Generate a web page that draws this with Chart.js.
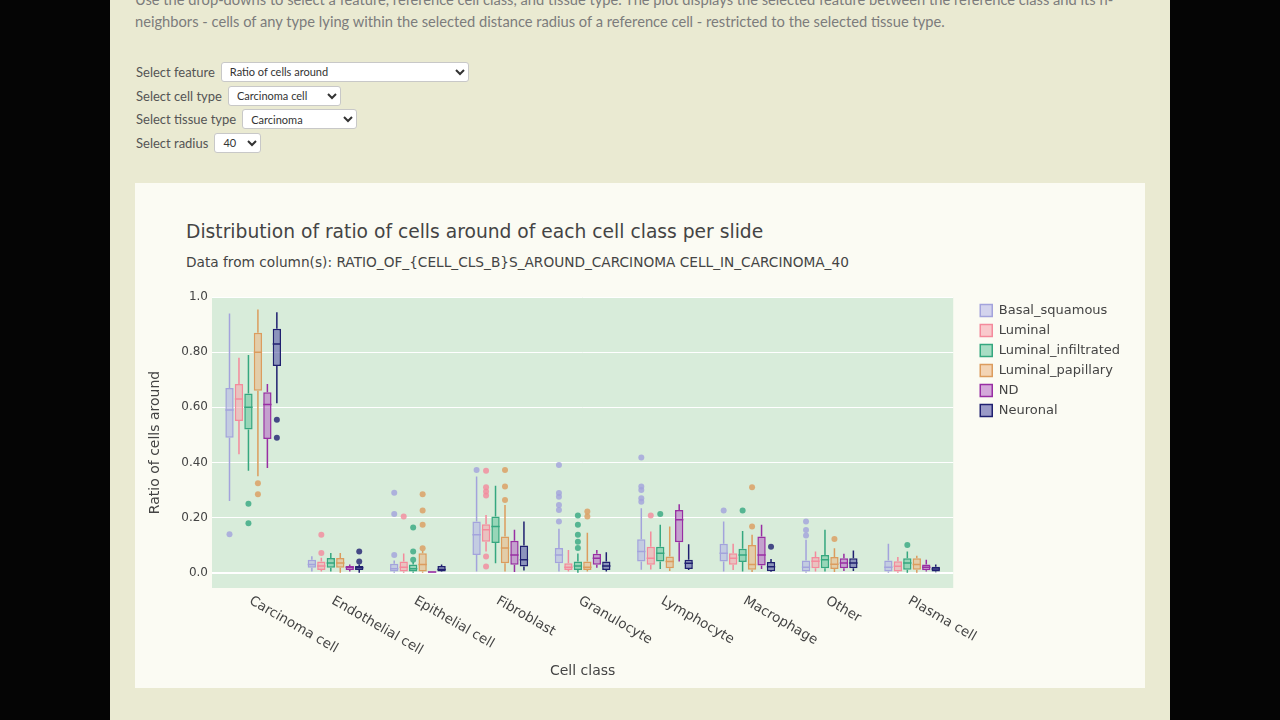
<!DOCTYPE html>
<html>
<head>
<meta charset="utf-8">
<title>Distribution of ratio of cells around</title>
<script src="https://cdn.jsdelivr.net/npm/chart.js@4.4.1/dist/chart.umd.min.js"></script>
<style>
  html, body { margin: 0; padding: 0; width: 1280px; height: 720px; overflow: hidden; background: #050505; }
  .page { position: absolute; left: 110px; top: 0; width: 1060px; height: 720px; background: #eaead2;
          font-family: Lato, "Open Sans", sans-serif; color: #7c7c7c; }
  .intro { position: absolute; left: 25px; top: -12px; margin: 0; font-size: 14.7px; line-height: 22px; white-space: nowrap; }
  .controls { position: absolute; left: 26px; top: 60px; font-size: 13px; color: #555; }
  .row { height: 23.7px; display: flex; align-items: center; }
  .row select { margin-left: 6px; height: 20px; font-family: Lato, sans-serif; font-size: 11px; color: #333;
                background: #fff; border: 1px solid #c8c8c8; border-radius: 3px; padding: 0 4px; }
  .card { position: absolute; left: 25px; top: 183px; width: 1010px; height: 505px; background: #fbfbf3; }
  .card h2 { position: absolute; left: 51px; top: 37px; margin: 0; font: 400 18.7px "DejaVu Sans", sans-serif; color: #444; line-height: 24px; }
  .card .sub { position: absolute; left: 51px; top: 70px; margin: 0; font: 400 13.7px "DejaVu Sans", sans-serif; color: #444; line-height: 18px; }
  .plot { position: absolute; left: 0; top: 100px; width: 1010px; height: 405px; }
</style>
</head>
<body>
<div class="page">
  <p class="intro">Use the drop-downs to select a feature, reference cell class, and tissue type. The plot displays the selected feature between the reference class and its n-<br>neighbors - cells of any type lying within the selected distance radius of a reference cell - restricted to the selected tissue type.</p>
  <div class="controls">
    <div class="row">Select feature <select style="width:248px"><option>Ratio of cells around</option></select></div>
    <div class="row">Select cell type <select style="width:113px"><option>Carcinoma cell</option></select></div>
    <div class="row">Select tissue type <select style="width:115px"><option>Carcinoma</option></select></div>
    <div class="row">Select radius <select style="width:47px"><option>40</option></select></div>
  </div>
  <div class="card">
    <h2>Distribution of ratio of cells around of each cell class per slide</h2>
    <p class="sub">Data from column(s): RATIO_OF_{CELL_CLS_B}S_AROUND_CARCINOMA CELL_IN_CARCINOMA_40</p>
    <div class="plot"><canvas id="boxChart"></canvas></div>
  </div>
</div>

<script>
// cell classes on the x axis
const categories = ['Carcinoma cell', 'Endothelial cell', 'Epithelial cell', 'Fibroblast', 'Granulocyte',
                    'Lymphocyte', 'Macrophage', 'Other', 'Plasma cell'];

// box stats per cell class: [lower whisker, q1, median, q3, upper whisker]
const basalSquamous = [[0.26, 0.49, 0.59, 0.67, 0.94], [0.005, 0.018, 0.03, 0.047, 0.06], [0, 0.005, 0.015, 0.033, 0.045],
                       [0.005, 0.065, 0.138, 0.186, 0.349], [0.005, 0.035, 0.065, 0.09, 0.16], [0.011, 0.041, 0.077, 0.122, 0.234],
                       [0.005, 0.041, 0.071, 0.105, 0.186], [0, 0.005, 0.02, 0.045, 0.12], [0, 0.005, 0.02, 0.045, 0.105]];
const luminal = [[0.43, 0.55, 0.63, 0.685, 0.78], [0.005, 0.01, 0.025, 0.041, 0.055], [0, 0.005, 0.02, 0.041, 0.07],
                 [0.077, 0.113, 0.156, 0.176, 0.21], [0.005, 0.01, 0.02, 0.035, 0.083], [0.012, 0.029, 0.053, 0.095, 0.15],
                 [0.01, 0.029, 0.053, 0.071, 0.105], [0.005, 0.017, 0.042, 0.057, 0.077], [0, 0.005, 0.024, 0.042, 0.057]];
const luminalInfiltrated = [[0.37, 0.52, 0.60, 0.65, 0.79], [0.005, 0.018, 0.036, 0.054, 0.072], [0, 0.005, 0.015, 0.03, 0.04],
                            [0.035, 0.108, 0.168, 0.204, 0.316], [0, 0.01, 0.025, 0.041, 0.07], [0.014, 0.041, 0.071, 0.095, 0.174],
                            [0.005, 0.039, 0.065, 0.087, 0.152], [0.005, 0.017, 0.047, 0.065, 0.156], [0, 0.011, 0.036, 0.053, 0.077]];
const luminalPapillary = [[0.35, 0.66, 0.80, 0.87, 0.955], [0, 0.018, 0.036, 0.054, 0.072], [0, 0.005, 0.03, 0.071, 0.08],
                          [0.005, 0.035, 0.09, 0.132, 0.246], [0.005, 0.01, 0.02, 0.041, 0.145], [0.007, 0.017, 0.041, 0.059, 0.168],
                          [0.003, 0.011, 0.03, 0.101, 0.138], [0.003, 0.014, 0.031, 0.057, 0.089], [0, 0.011, 0.03, 0.053, 0.062]];
const nd = [[0.38, 0.485, 0.61, 0.655, 0.685], [0.005, 0.01, 0.02, 0.025, 0.03], [0, 0.001, 0.003, 0.005, 0.006],
            [0.003, 0.029, 0.065, 0.116, 0.156], [0.018, 0.029, 0.053, 0.069, 0.083], [0.041, 0.111, 0.192, 0.228, 0.249],
            [0.014, 0.027, 0.065, 0.132, 0.174], [0.007, 0.017, 0.036, 0.053, 0.069], [0.005, 0.009, 0.02, 0.03, 0.047]];
const neuronal = [[0.615, 0.75, 0.83, 0.885, 0.945], [0, 0.01, 0.018, 0.025, 0.03], [0.003, 0.005, 0.012, 0.025, 0.03],
                  [0.008, 0.023, 0.047, 0.099, 0.186], [0.005, 0.01, 0.025, 0.041, 0.075], [0.01, 0.014, 0.035, 0.047, 0.104],
                  [0.003, 0.006, 0.022, 0.039, 0.05], [0.007, 0.017, 0.036, 0.053, 0.081], [0.002, 0.005, 0.014, 0.022, 0.03]];

// outlier points per cell class
const basalSquamousOut = [[0.14], [], [0.065, 0.213, 0.29], [0.373], [0.186, 0.228, 0.246, 0.276, 0.289, 0.391],
                          [0.258, 0.27, 0.30, 0.313, 0.418], [0.226], [0.135, 0.155, 0.186], []];
const luminalOut = [[], [0.072, 0.138], [0.204], [0.023, 0.059, 0.28, 0.295, 0.31, 0.37], [], [0.208], [], [], []];
const luminalInfiltratedOut = [[0.18, 0.25], [], [0.047, 0.077, 0.164], [], [0.09, 0.113, 0.138, 0.174, 0.208],
                               [0.213], [0.226], [], [0.101]];
const luminalPapillaryOut = [[0.285, 0.325], [], [0.089, 0.174, 0.226, 0.285], [0.264, 0.313, 0.373], [0.204, 0.222],
                             [], [0.168, 0.31], [0.123], []];
const ndOut = [[], [], [], [], [], [], [], [], []];
const neuronalOut = [[0.49, 0.555], [0.041, 0.077], [], [], [], [], [0.095], [], []];

// y axis
const yTickValues = [0, 0.2, 0.4, 0.6, 0.8, 1.0];
const yTickLabels = ['0.0', '0.20', '0.40', '0.60', '0.80', '1.0'];
const yMin = -0.055;
const yMax = 1.0;

const plotBg = '#d8ecda';

function boxSet(label, stats, outliers, color, fill) {
    return {
        label: label,
        data: stats.map(s => [s[1], s[3]]), // the box itself is a floating bar q1..q3
        stats: stats,
        outliers: outliers,
        backgroundColor: fill,
        borderColor: color,
        borderWidth: 1.5,
        borderSkipped: false,
        categoryPercentage: 0.69,
        barPercentage: 0.88
    };
}

// whiskers, medians and outliers on top of the bars
const boxParts = {
    id: 'boxParts',
    beforeDraw(chart) {
        const { ctx, chartArea: a } = chart;
        ctx.save();
        ctx.fillStyle = plotBg;
        ctx.fillRect(a.left, a.top, a.right - a.left, a.bottom - a.top);
        ctx.restore();
    },
    afterDatasetsDraw(chart) {
        const ctx = chart.ctx;
        const y = chart.scales.y;
        chart.data.datasets.forEach((ds, i) => {
            const meta = chart.getDatasetMeta(i);
            if (meta.hidden) return;
            meta.data.forEach((bar, j) => {
                const [lo, q1, med, q3, hi] = ds.stats[j];
                const half = bar.width / 2;
                ctx.save();
                ctx.strokeStyle = ds.borderColor;
                ctx.lineWidth = 1.5;
                ctx.beginPath();
                ctx.moveTo(bar.x, y.getPixelForValue(lo));
                ctx.lineTo(bar.x, y.getPixelForValue(q1));
                ctx.moveTo(bar.x, y.getPixelForValue(q3));
                ctx.lineTo(bar.x, y.getPixelForValue(hi));
                ctx.moveTo(bar.x - half, y.getPixelForValue(med));
                ctx.lineTo(bar.x + half, y.getPixelForValue(med));
                ctx.stroke();
                ctx.fillStyle = ds.borderColor;
                ctx.globalAlpha = 0.8;
                ds.outliers[j].forEach(v => {
                    ctx.beginPath();
                    ctx.arc(bar.x, y.getPixelForValue(v), 3, 0, Math.PI * 2);
                    ctx.fill();
                });
                ctx.restore();
            });
        });
    }
};

// x labels slanted downwards to the right
const slantedLabels = {
    id: 'slantedLabels',
    afterDraw(chart) {
        const ctx = chart.ctx;
        const x = chart.scales.x;
        ctx.save();
        ctx.font = '13.5px "DejaVu Sans"';
        ctx.fillStyle = '#444';
        ctx.textAlign = 'left';
        ctx.textBaseline = 'middle';
        categories.forEach((c, i) => {
            ctx.save();
            ctx.translate(x.getPixelForTick(i) - 3, chart.chartArea.bottom + 12);
            ctx.rotate(Math.PI / 6);
            ctx.fillText(c, 0, 0);
            ctx.restore();
        });
        ctx.restore();
    }
};

function initializeBoxChart() {
    try {
        Chart.defaults.font.family = '"DejaVu Sans", sans-serif';
        Chart.defaults.color = '#444';
        const ctx = document.getElementById('boxChart').getContext('2d');
        new Chart(ctx, {
            type: 'bar',
            data: {
                labels: categories,
                datasets: [
                    boxSet('Basal_squamous', basalSquamous, basalSquamousOut, '#a3a3dc', 'rgba(178,178,232,0.55)'),
                    boxSet('Luminal', luminal, luminalOut, '#f48a9c', 'rgba(248,160,172,0.55)'),
                    boxSet('Luminal_infiltrated', luminalInfiltrated, luminalInfiltratedOut, '#35a77f', 'rgba(100,196,156,0.55)'),
                    boxSet('Luminal_papillary', luminalPapillary, luminalPapillaryOut, '#dc9c5e', 'rgba(236,180,130,0.55)'),
                    boxSet('ND', nd, ndOut, '#982ea3', 'rgba(180,100,196,0.55)'),
                    boxSet('Neuronal', neuronal, neuronalOut, '#202070', 'rgba(90,90,170,0.6)')
                ]
            },
            options: {
                responsive: true,
                maintainAspectRatio: false,
                animation: false,
                layout: { padding: { top: 14, left: 0, right: 15, bottom: 0 } },
                plugins: {
                    legend: {
                        position: 'right',
                        align: 'start',
                        fullSize: false,
                        labels: { boxWidth: 12, boxHeight: 12, padding: 7, font: { size: 13 }, color: '#444' }
                    },
                    tooltip: { enabled: false }
                },
                scales: {
                    x: {
                        grid: { display: false },
                        border: { display: false },
                        ticks: { display: false },
                        title: { display: true, text: 'Cell class', font: { size: 14 }, color: '#444', padding: { top: 4, bottom: 8 } },
                        afterFit: s => { s.height = 100; }
                    },
                    y: {
                        min: yMin,
                        max: yMax,
                        afterBuildTicks: s => { s.ticks = yTickValues.map(v => ({ value: v })); },
                        ticks: { callback: (v, i) => yTickLabels[i], font: { size: 12 }, color: '#444', padding: 4 },
                        grid: { color: '#ffffff', lineWidth: c => (c.tick && c.tick.value === 0 ? 2 : 1), drawTicks: false },
                        border: { display: false },
                        title: { display: true, text: 'Ratio of cells around', font: { size: 14 }, color: '#444', padding: { top: 12, bottom: 0 } },
                        afterFit: s => { s.width = 77; }
                    },
                    // empty axis that only keeps a gap between the plot and the legend
                    gap: {
                        type: 'linear',
                        position: 'right',
                        grid: { display: false },
                        border: { display: false },
                        ticks: { display: false },
                        afterFit: s => { s.width = 20; }
                    }
                }
            },
            plugins: [boxParts, slantedLabels]
        });
    } catch (error) {
        console.error('Error initializing box chart:', error);
    }
}

document.addEventListener('DOMContentLoaded', function () {
    initializeBoxChart();
});
</script>
</body>
</html>
